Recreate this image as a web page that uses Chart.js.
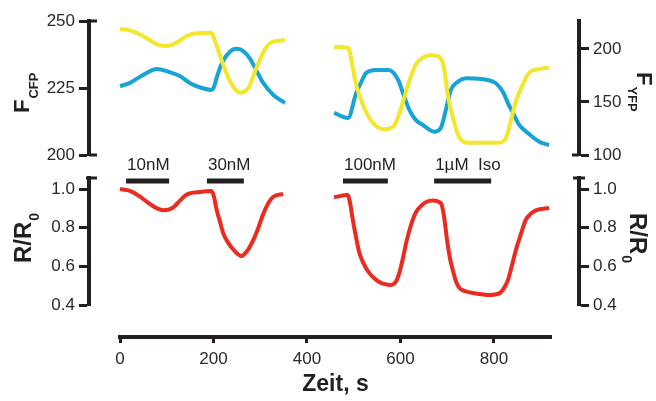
<!DOCTYPE html>
<html>
<head>
<meta charset="utf-8">
<script src="https://cdn.jsdelivr.net/npm/chart.js@4/dist/chart.umd.min.js"></script>
<style>
  html, body { margin: 0; padding: 0; background: #fff; }
  #wrap { position: relative; width: 656px; height: 401px; }
  #wrap canvas { position: absolute; left: 0; top: 0; }
</style>
</head>
<body>
<div id="wrap">
  <canvas id="fret" width="656" height="401"></canvas>
  <canvas id="ratio" width="656" height="401"></canvas>
  <canvas id="time" width="656" height="401"></canvas>
</div>
<script>
// Traces (time in s); null marks the gap between the two recordings
const yfpTime = [0, 21, 49, 79, 100, 121, 143, 164, 196, 203, 218, 235, 257, 275, 292, 310, 328, 353, 400,
  458, 488, 498, 505, 519, 533, 548, 565, 586, 597, 608, 619, 633, 648, 661, 683, 693, 701, 712, 726, 747,
  811, 826, 836, 847, 862, 875, 894, 918];
const yfpValues = [218.6, 217.6, 212.3, 204.4, 202.8, 206.0, 212.3, 214.8, 215.4, 207.5, 188.7, 169.8, 158.8,
  163.5, 182.4, 199.7, 206.9, 208.2, null,
  201.9, 200.9, 182.4, 166.7, 148.0, 135.2, 127.4, 124.2, 127.4, 138.7, 154.0, 169.8, 185.6, 191.8, 194.0,
  192.5, 182.4, 157.2, 135.2, 116.3, 111.6, 111.6, 116.3, 132.0, 151.0, 166.7, 177.6, 180.8, 182.4];

const cfpTime = [0, 20, 43, 79, 105, 128, 150, 175, 196, 200, 208, 218, 235, 250, 265, 278, 292, 306, 328, 353, 400,
  458, 488, 505, 515, 526, 548, 575, 595, 608, 619, 633, 648, 672, 686, 697, 708, 723, 740, 798, 819, 830,
  841, 854, 869, 896, 918];
const cfpValues = [225.7, 226.8, 229.2, 232.1, 231.0, 229.5, 226.8, 225.0, 224.3, 225.0, 229.5, 234.3, 238.5,
  239.6, 238.6, 236.0, 231.5, 227.0, 222.4, 219.4, null,
  215.7, 213.8, 223.0, 226.8, 230.5, 231.7, 231.7, 228.0, 221.8, 216.8, 213.0, 211.2, 208.7, 210.0, 216.8,
  224.3, 227.4, 228.6, 227.4, 223.6, 219.3, 215.6, 211.2, 208.7, 205.0, 203.7];

const ratioTime = [0, 21, 40, 57, 75, 93, 114, 128, 142, 171, 196, 201, 207, 214, 221, 232, 243, 260, 272, 285,
  296, 307, 318, 328, 349, 400,
  458, 487, 492, 498, 505, 512, 522, 533, 548, 562, 580, 590, 598, 606, 612, 622, 633, 645, 655, 669, 687,
  693, 700, 706, 712, 719, 726, 740, 755, 790, 811, 822, 830, 838, 847, 858, 868, 880, 890, 918];
const ratioValues = [1.0, 0.99, 0.965, 0.935, 0.905, 0.89, 0.905, 0.94, 0.97, 0.985, 0.99, 0.96, 0.89, 0.83,
  0.77, 0.72, 0.685, 0.654, 0.68, 0.736, 0.8, 0.874, 0.93, 0.96, 0.974, null,
  0.957, 0.969, 0.93, 0.84, 0.75, 0.67, 0.61, 0.566, 0.53, 0.51, 0.504, 0.52, 0.57, 0.65, 0.72, 0.81, 0.88,
  0.915, 0.933, 0.94, 0.925, 0.86, 0.73, 0.64, 0.58, 0.52, 0.488, 0.47, 0.462, 0.452, 0.46, 0.49, 0.53, 0.6,
  0.685, 0.77, 0.84, 0.875, 0.89, 0.902];

// Iso application periods
const doseStart = [13, 186, 477, 672];
const doseEnd = [105, 265, 573, 794];
const doseLabels = ["10nM", "30nM", "100nM", "1µM  Iso"];
const doseLevel = 1.041;

// Axes
const timeTicks = [0, 200, 400, 600, 800];
const cfpTicks = [200, 225, 250];
const yfpTicks = [100, 150, 200];
const ratioTicks = [0.4, 0.6, 0.8, 1.0];

const INK = "#231f20";
const FONT = '"Liberation Sans", Arial, Helvetica, sans-serif';
const W = 656, H = 401;
const AXIS_X0 = 120, AXIS_X1 = 551, AXIS_Y = 337;
const LEFT_AXIS = 89, RIGHT_AXIS = 579;
const TIME_MAX = 922;

// side panels put their y axes outside the time axis, so widen x range to keep the same mapping
const pxPerSec = (AXIS_X1 - AXIS_X0) / TIME_MAX;
const panelXMin = -(AXIS_X0 - LEFT_AXIS) / pxPerSec;
const panelXMax = TIME_MAX + (RIGHT_AXIS - AXIS_X1) / pxPerSec;

function points(time, values) {
  return time.map((t, i) => ({ x: t, y: values[i] }));
}

function trace(label, time, values, color, axis) {
  return {
    label,
    data: points(time, values),
    yAxisID: axis,
    borderColor: color,
    borderWidth: 4,
    pointRadius: 0,
    cubicInterpolationMode: "monotone",
    spanGaps: false,
  };
}

function yAxis(position, min, max, ticks, fmt) {
  return {
    type: "linear",
    position,
    min,
    max,
    afterFit: (s) => {
      s.width = position === "left" ? LEFT_AXIS : W - RIGHT_AXIS;
    },
    afterBuildTicks: (s) => {
      s.ticks = ticks.map((v) => ({ value: v }));
    },
    border: { display: true, color: INK, width: 4 },
    grid: { drawOnChartArea: false, color: INK, tickColor: INK, tickLength: 10, tickWidth: 3 },
    ticks: { color: "#2a2a2a", font: { family: FONT, size: 17 }, padding: 4, callback: fmt },
  };
}

// little end caps on the vertical axes
const capsPlugin = {
  id: "caps",
  afterDraw(chart, args, opts) {
    const ctx = chart.ctx;
    ctx.save();
    ctx.strokeStyle = INK;
    ctx.lineWidth = 3;
    opts.items.forEach((c) => {
      const s = chart.scales[c.axis];
      const y = s.getPixelForValue(c.value);
      const x = s.position === "left" ? s.right : s.left;
      ctx.beginPath();
      ctx.moveTo(x - c.before, y);
      ctx.lineTo(x + c.after, y);
      ctx.stroke();
    });
    ctx.restore();
  },
};

function axisTitle(ctx, x, y, angle, main, sub, size, subSize, drop) {
  ctx.save();
  ctx.translate(x, y);
  ctx.rotate(angle);
  ctx.fillStyle = INK;
  ctx.textAlign = "left";
  ctx.textBaseline = "alphabetic";
  ctx.font = `bold ${size}px ${FONT}`;
  ctx.fillText(main, 0, 0);
  const w = ctx.measureText(main).width;
  ctx.font = `bold ${subSize}px ${FONT}`;
  ctx.fillText(sub, w + 1, drop);
  ctx.restore();
}

const base = {
  responsive: false,
  animation: false,
  events: [],
};

// Top panel: CFP and YFP intensities
new Chart(document.getElementById("fret"), {
  type: "line",
  data: {
    datasets: [
      trace("YFP", yfpTime, yfpValues, "#f4e62a", "yfp"),
      trace("CFP", cfpTime, cfpValues, "#17a3d5", "cfp"),
    ],
  },
  options: {
    ...base,
    layout: { padding: { top: 21, bottom: H - 155, left: 0, right: 0 } },
    scales: {
      x: { type: "linear", display: false, min: panelXMin, max: panelXMax },
      cfp: yAxis("left", 200, 250, cfpTicks, (v) => String(v)),
      yfp: yAxis("right", 100, 226.4, yfpTicks, (v) => String(v)),
    },
    plugins: {
      legend: { display: false },
      tooltip: { enabled: false },
      caps: {
        items: [
          { axis: "cfp", value: 250, before: 0, after: 8 },
          { axis: "cfp", value: 200, before: 0, after: 8 },
          { axis: "yfp", value: 100, before: 7, after: 0 },
        ],
      },
    },
  },
  plugins: [
    capsPlugin,
    {
      id: "fretTitles",
      afterDraw(chart) {
        axisTitle(chart.ctx, 29, 113, -Math.PI / 2, "F", "CFP", 22, 13, 9);
        axisTitle(chart.ctx, 637, 72, Math.PI / 2, "F", "YFP", 22, 13, 9);
      },
    },
  ],
});

// Bottom panel: normalised ratio with Iso application bars
const doseSets = doseStart.map((s, i) => ({
  label: doseLabels[i],
  data: [{ x: s, y: doseLevel }, { x: doseEnd[i], y: doseLevel }],
  yAxisID: "ratio",
  borderColor: INK,
  borderWidth: 5,
  pointRadius: 0,
  borderCapStyle: "butt",
}));

new Chart(document.getElementById("ratio"), {
  type: "line",
  data: {
    datasets: [trace("R/R0", ratioTime, ratioValues, "#ec2b20", "ratio"), ...doseSets],
  },
  options: {
    ...base,
    layout: { padding: { top: 178, bottom: H - 305, left: 0, right: 0 } },
    scales: {
      x: { type: "linear", display: false, min: panelXMin, max: panelXMax },
      ratio: yAxis("left", 0.4, 1.057, ratioTicks, (v) => v.toFixed(1)),
      ratio2: yAxis("right", 0.4, 1.057, ratioTicks, (v) => v.toFixed(1)),
    },
    plugins: {
      legend: { display: false },
      tooltip: { enabled: false },
      caps: {
        items: [
          { axis: "ratio", value: 1.057, before: 3, after: 8 },
          { axis: "ratio2", value: 1.057, before: 6, after: 6 },
        ],
      },
    },
  },
  plugins: [
    capsPlugin,
    {
      id: "ratioText",
      afterDraw(chart) {
        const ctx = chart.ctx;
        const xs = chart.scales.x;
        const ys = chart.scales.ratio;
        ctx.save();
        ctx.fillStyle = INK;
        ctx.font = `17px ${FONT}`;
        ctx.textAlign = "left";
        ctx.textBaseline = "alphabetic";
        doseLabels.forEach((lab, i) => {
          ctx.fillText(lab, xs.getPixelForValue(doseStart[i]) + 1, ys.getPixelForValue(doseLevel) - 11);
        });
        ctx.restore();
        axisTitle(ctx, 31, 263, -Math.PI / 2, "R/R", "0", 24, 14, 8);
        axisTitle(ctx, 630, 213, Math.PI / 2, "R/R", "0", 24, 14, 8);
      },
    },
  ],
});

// Shared time axis
new Chart(document.getElementById("time"), {
  type: "line",
  data: { datasets: [] },
  options: {
    ...base,
    layout: { padding: { top: 0, bottom: 0, left: AXIS_X0, right: W - AXIS_X1 } },
    scales: {
      x: {
        type: "linear",
        position: "bottom",
        min: 0,
        max: TIME_MAX,
        afterFit: (s) => {
          s.height = H - AXIS_Y;
        },
        afterBuildTicks: (s) => {
          s.ticks = timeTicks.map((v) => ({ value: v }));
        },
        border: { display: true, color: INK, width: 4 },
        grid: { drawOnChartArea: false, color: INK, tickColor: INK, tickLength: 6, tickWidth: 3 },
        ticks: { color: "#2a2a2a", font: { family: FONT, size: 17 }, padding: 6, maxRotation: 0 },
      },
      y: { display: false },
    },
    plugins: { legend: { display: false }, tooltip: { enabled: false } },
  },
  plugins: [
    {
      id: "timeTitle",
      afterDraw(chart) {
        const ctx = chart.ctx;
        ctx.save();
        ctx.fillStyle = INK;
        ctx.font = `bold 23px ${FONT}`;
        ctx.textAlign = "center";
        ctx.textBaseline = "alphabetic";
        ctx.fillText("Zeit, s", (AXIS_X0 + AXIS_X1) / 2, 391);
        ctx.restore();
      },
    },
  ],
});
</script>
</body>
</html>
